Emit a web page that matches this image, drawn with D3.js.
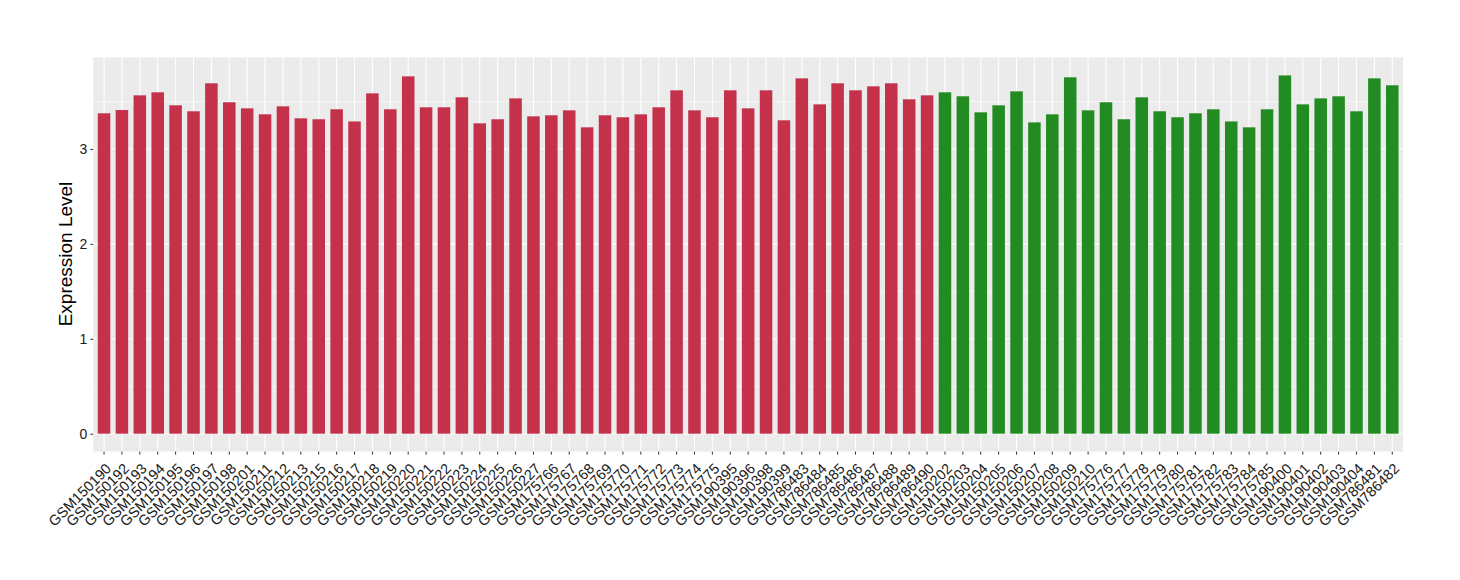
<!DOCTYPE html>
<html><head><meta charset="utf-8">
<script src="https://cdn.jsdelivr.net/npm/d3@7"></script>
<style>body{margin:0;background:#fff;} text{font-family:"Liberation Sans",Arial,sans-serif;}</style>
</head><body><svg id="c" width="1460" height="580"></svg>
<script>
const redSamples = ["GSM150190","GSM150192","GSM150193","GSM150194","GSM150195","GSM150196","GSM150197","GSM150198","GSM150201","GSM150211","GSM150212","GSM150213","GSM150215","GSM150216","GSM150217","GSM150218","GSM150219","GSM150220","GSM150221","GSM150222","GSM150223","GSM150224","GSM150225","GSM150226","GSM150227","GSM175766","GSM175767","GSM175768","GSM175769","GSM175770","GSM175771","GSM175772","GSM175773","GSM175774","GSM175775","GSM190395","GSM190396","GSM190398","GSM190399","GSM786483","GSM786484","GSM786485","GSM786486","GSM786487","GSM786488","GSM786489","GSM786490"];
const redValues = [3.376,3.41,3.565,3.597,3.46,3.397,3.692,3.492,3.428,3.365,3.449,3.323,3.313,3.418,3.29,3.586,3.418,3.765,3.439,3.439,3.544,3.27,3.313,3.533,3.344,3.355,3.407,3.228,3.355,3.334,3.365,3.439,3.618,3.407,3.334,3.618,3.428,3.618,3.302,3.744,3.47,3.692,3.618,3.66,3.692,3.523,3.565];
const greenSamples = ["GSM150202","GSM150203","GSM150204","GSM150205","GSM150206","GSM150207","GSM150208","GSM150209","GSM150210","GSM175776","GSM175777","GSM175778","GSM175779","GSM175780","GSM175781","GSM175782","GSM175783","GSM175784","GSM175785","GSM190400","GSM190401","GSM190402","GSM190403","GSM190404","GSM786481","GSM786482"];
const greenValues = [3.597,3.555,3.386,3.46,3.607,3.28,3.365,3.755,3.407,3.492,3.313,3.544,3.397,3.334,3.376,3.418,3.29,3.228,3.418,3.775,3.47,3.533,3.555,3.397,3.744,3.671];
const yTicks = [0,1,2,3];
const yMinor = [0.5,1.5,2.5,3.5];
const yTitle = "Expression Level";
const colors = {red:"#C3314A", green:"#228B22"};

const data = redSamples.map((s,i)=>({s, v:redValues[i], g:"red"}))
  .concat(greenSamples.map((s,i)=>({s, v:greenValues[i], g:"green"})));

const svg = d3.select("#c");
const L = 93.3, R = 1403, T = 57.5, B = 451.6;
const maxV = d3.max(data, d=>d.v);
const x = d3.scaleBand().domain(data.map(d=>d.s)).range([L,R]).paddingInner(0.3).paddingOuter(0.25);
const y = d3.scaleLinear().domain([-0.05*maxV, 1.05*maxV]).range([B,T]);

svg.append("rect").attr("x",L).attr("y",T).attr("width",R-L).attr("height",B-T).attr("fill","#EBEBEB");
const g = svg.append("g");
g.selectAll("line.minor").data(yMinor).enter().append("line")
  .attr("x1",L).attr("x2",R).attr("y1",d=>y(d)).attr("y2",d=>y(d)).attr("stroke","#fff").attr("stroke-width",0.55);
g.selectAll("line.majy").data(yTicks).enter().append("line")
  .attr("x1",L).attr("x2",R).attr("y1",d=>y(d)).attr("y2",d=>y(d)).attr("stroke","#fff").attr("stroke-width",1.1);
g.selectAll("line.majx").data(data).enter().append("line")
  .attr("y1",T).attr("y2",B).attr("x1",d=>x(d.s)+x.bandwidth()/2).attr("x2",d=>x(d.s)+x.bandwidth()/2).attr("stroke","#fff").attr("stroke-width",1.1);

svg.selectAll("rect.bar").data(data).enter().append("rect")
  .attr("x",d=>x(d.s)).attr("width",x.bandwidth())
  .attr("y",d=>y(d.v)).attr("height",d=>y(0)-y(d.v))
  .attr("fill",d=>colors[d.g]);

// y axis
const ya = svg.append("g").attr("transform",`translate(${L},0)`)
  .call(d3.axisLeft(y).tickValues(yTicks).tickSize(3).tickPadding(3).tickFormat(d3.format("d")));
ya.select(".domain").remove();
ya.selectAll("line").attr("stroke","#333");
ya.selectAll("text").attr("fill","#1A1A1A").style("font-size","14px").style("font-family","Liberation Sans, Arial, sans-serif");

// x axis
const xa = svg.append("g").attr("transform",`translate(0,${B})`)
  .call(d3.axisBottom(x).tickSize(3).tickSizeOuter(0));
xa.select(".domain").remove();
xa.selectAll("line").attr("stroke","#333");
xa.selectAll("text")
  .attr("fill","#1A1A1A").style("font-size","14.5px").style("font-family","Liberation Sans, Arial, sans-serif")
  .attr("text-anchor","end")
  .attr("y",0).attr("dy","0")
  .attr("transform","translate(8,18) rotate(-45)");

svg.append("text").attr("transform",`translate(72,254) rotate(-90)`)
  .attr("text-anchor","middle").style("font-size","19px").attr("fill","#000").text(yTitle);
</script></body></html>
